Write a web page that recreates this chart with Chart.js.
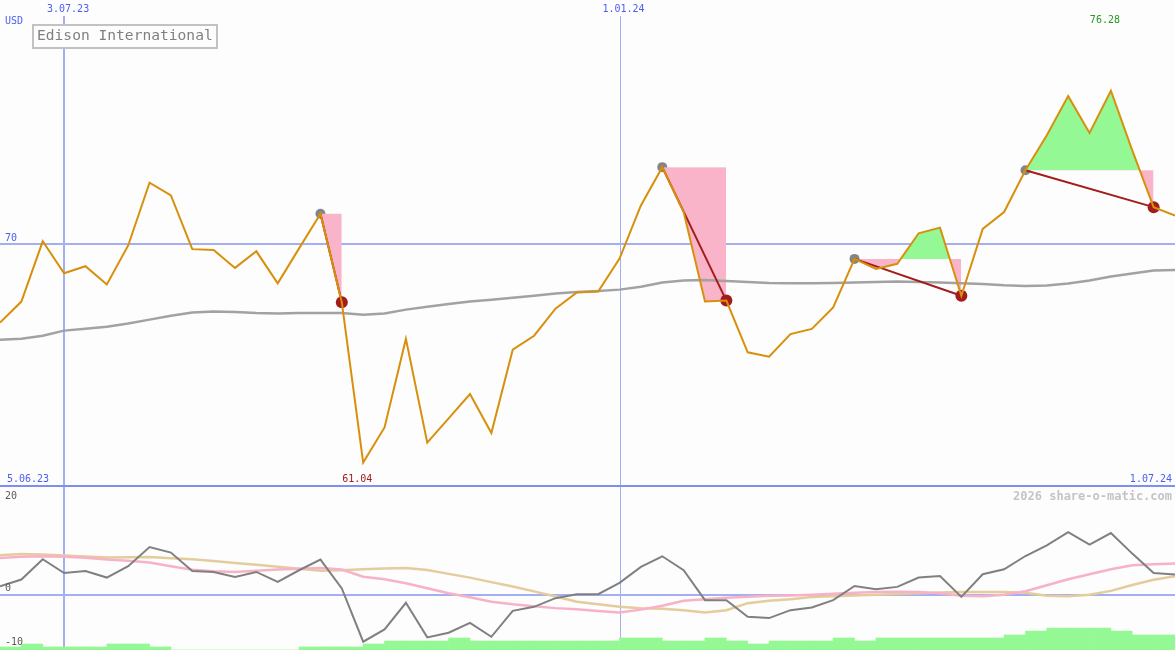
<!DOCTYPE html>
<html>
<head>
<meta charset="utf-8">
<title>Edison International</title>
<script src="https://cdn.jsdelivr.net/npm/chart.js@4.4.1/dist/chart.umd.min.js"></script>
<style>
  html, body { margin: 0; padding: 0; background: #fcfdfc; }
  #wrap { position: relative; width: 1175px; height: 650px; overflow: hidden; }
  canvas { position: absolute; left: 0; }
  #priceChart { top: 0; }
  #oscChart { top: 488px; }
</style>
</head>
<body>
<div id="wrap">
  <canvas id="priceChart" width="1175" height="488"></canvas>
  <canvas id="oscChart" width="1175" height="162"></canvas>
</div>
<script>
// weekly closes, USD
const price = [
  66.78, 67.64, 70.11, 68.80, 69.09, 68.34, 69.94, 72.51, 71.99, 69.79,
  69.75, 69.02, 69.70, 68.39, 69.82, 71.24, 67.61, 61.04, 62.48, 66.11,
  61.86, 62.85, 63.85, 62.25, 65.67, 66.24, 67.35, 68.01, 68.05, 69.40,
  71.58, 73.15, 71.31, 67.64, 67.68, 65.56, 65.38, 66.31, 66.52, 67.40,
  69.39, 68.98, 69.19, 70.44, 70.67, 67.88, 70.62, 71.31, 73.02, 74.46,
  76.06, 74.55, 76.28, 73.84, 71.51, 71.17,
];
// long moving average (gray)
const avgLine = [
  66.08, 66.12, 66.24, 66.45, 66.53, 66.61, 66.74, 66.90, 67.06, 67.19,
  67.23, 67.21, 67.17, 67.15, 67.17, 67.17, 67.17, 67.10, 67.15, 67.31,
  67.43, 67.54, 67.64, 67.72, 67.80, 67.88, 67.97, 68.03, 68.07, 68.13,
  68.25, 68.42, 68.50, 68.52, 68.48, 68.44, 68.40, 68.39, 68.39, 68.40,
  68.42, 68.44, 68.46, 68.44, 68.42, 68.39, 68.36, 68.31, 68.28, 68.30,
  68.38, 68.50, 68.67, 68.79, 68.91, 68.93,
];
// lower panel
const oscGray = [
  1.59, 2.84, 6.64, 4.07, 4.45, 3.21, 5.33, 8.93, 7.89, 4.45,
  4.26, 3.33, 4.26, 2.39, 4.58, 6.58, 1.16, -8.82, -6.50, -1.53,
  -8.00, -7.14, -5.27, -7.89, -3.03, -2.28, -0.65, 0.09, 0.09, 2.21,
  5.20, 7.20, 4.58, -1.03, -1.03, -4.15, -4.39, -2.90, -2.39, -1.03,
  1.64, 1.03, 1.46, 3.21, 3.51, -0.41, 3.83, 4.77, 7.25, 9.25,
  11.74, 9.38, 11.55, 7.70, 4.07, 3.78,
];
const oscPink = [
  6.88, 7.10, 7.20, 7.10, 6.92, 6.58, 6.36, 6.02, 5.33, 4.67,
  4.39, 4.26, 4.49, 4.71, 4.86, 5.01, 4.71, 3.36, 2.90, 2.15,
  1.21, 0.28, -0.47, -1.31, -1.78, -2.15, -2.52, -2.75, -3.08, -3.36,
  -2.80, -2.06, -1.12, -0.84, -0.56, -0.37, -0.22, -0.13, 0.00, 0.19,
  0.37, 0.52, 0.56, 0.52, 0.28, -0.19, -0.28, 0.00, 0.65, 1.78,
  2.90, 3.83, 4.77, 5.51, 5.70, 5.83,
];
const oscTan = [
  7.38, 7.63, 7.55, 7.35, 7.15, 6.95, 7.00, 7.07, 6.85, 6.65,
  6.30, 5.95, 5.60, 5.22, 4.85, 4.47, 4.60, 4.77, 4.90, 5.01,
  4.62, 3.90, 3.20, 2.35, 1.55, 0.62, -0.35, -1.31, -1.78, -2.24,
  -2.52, -2.62, -2.90, -3.36, -2.90, -1.59, -1.12, -0.84, -0.45, -0.30,
  -0.15, 0.00, 0.15, 0.25, 0.40, 0.50, 0.52, 0.52, 0.35, -0.20,
  -0.28, 0.00, 0.71, 1.83, 2.80, 3.46,
];
// volume, one bar per week
const volume = [
  1, 2, 1, 1, 1, 2, 2, 1, 0, 0,
  0, 0, 0, 0, 1, 1, 1, 2, 3, 3,
  3, 4, 3, 3, 3, 3, 3, 3, 3, 4,
  4, 3, 3, 4, 3, 2, 3, 3, 3, 4,
  3, 4, 4, 4, 4, 4, 4, 5, 6.3, 7.3,
  7.3, 7.3, 6.3, 5, 5,
];
// trades: entry / exit week
const entryIdx = [15, 31, 40, 48];
const exitIdx = [16, 34, 45, 54];

const dateTickIdx = [3, 29];
const dateTickText = ['3.07.23', '1.01.24'];
const priceGrid = 70;
const oscTicks = [20, 0, -10];

const BG = '#fcfdfc';
const GRID = '#a3aff2';
const BLUE = '#4c5ef0';
const PINK = '#f9b4c9';
const GREEN = '#94f994';
const DARKRED = '#a31c1c';
const MONO = '"DejaVu Sans Mono", "Liberation Mono", monospace';

const xMax = price.length - 1;
const pts = (arr, from = 0) => arr.map((v, k) => ({ x: from + k, y: v }));

const lineDs = (data, color, width, order) => ({
  type: 'line', data, borderColor: color, borderWidth: width,
  pointRadius: 0, tension: 0, fill: false, order,
});

const xScale = { type: 'linear', min: 0, max: xMax, display: false, offset: false };

// ---------- top panel ----------
const datasets = [];
datasets.push(lineDs(pts(price), '#d8900c', 2, 0));
datasets.push({
  type: 'line', showLine: false, order: 1,
  data: exitIdx.map((i) => ({ x: i, y: price[i] })),
  pointRadius: 6, pointBackgroundColor: DARKRED, pointBorderWidth: 0, pointHoverRadius: 6,
});
entryIdx.forEach((e, k) => {
  const x = exitIdx[k];
  datasets.push(lineDs([{ x: e, y: price[e] }, { x, y: price[x] }], DARKRED, 2, 2));
});
datasets.push(lineDs(pts(avgLine), '#a2a2a2', 2.5, 3));
entryIdx.forEach((e, k) => {
  const x = exitIdx[k];
  datasets.push({
    type: 'line', data: pts(price.slice(e, x + 1), e),
    borderWidth: 0, pointRadius: 0, tension: 0, order: 4,
    fill: { target: { value: price[e] }, above: GREEN, below: PINK },
  });
});
datasets.push({
  type: 'line', showLine: false, order: 5,
  data: entryIdx.map((i) => ({ x: i, y: price[i] })),
  pointRadius: 5, pointBackgroundColor: '#858585', pointBorderWidth: 0,
});

const topDecor = {
  id: 'topDecor',
  beforeDatasetsDraw(chart) {
    const { ctx, scales: { x, y } } = chart;
    ctx.save();
    ctx.fillStyle = GRID;
    const yg = Math.round(y.getPixelForValue(priceGrid));
    ctx.fillRect(0, yg - 1, chart.width, 2);
    dateTickIdx.forEach((i, k) => {
      const px = x.getPixelForValue(i);
      if (k === 0) ctx.fillRect(Math.round(px) - 1, 16, 2, chart.height);
      else ctx.fillRect(Math.ceil(px), 16, 1, chart.height);
    });
    ctx.restore();
  },
  afterDraw(chart) {
    const { ctx, scales: { x, y } } = chart;
    ctx.save();
    // separator
    ctx.fillStyle = '#7f8ff0';
    ctx.fillRect(0, 485, chart.width, 2);

    ctx.font = '10px ' + MONO;
    ctx.textBaseline = 'middle';
    ctx.fillStyle = BLUE;
    ctx.textAlign = 'center';
    dateTickIdx.forEach((i, k) => ctx.fillText(dateTickText[k], x.getPixelForValue(i) + 4, 9));
    ctx.textAlign = 'left';
    ctx.fillText('USD', 5, 21);
    ctx.fillText(String(priceGrid), 5, y.getPixelForValue(priceGrid) - 6);
    ctx.fillText('5.06.23', 7, 479);
    ctx.textAlign = 'right';
    ctx.fillText('1.07.24', 1172, 479);

    // min / max labels
    const hi = price.indexOf(Math.max(...price));
    const lo = price.indexOf(Math.min(...price));
    ctx.textAlign = 'center';
    ctx.fillStyle = '#1f9a1f';
    ctx.fillText(price[hi].toFixed(2), x.getPixelForValue(hi) - 6, 20.5);
    ctx.fillStyle = DARKRED;
    ctx.fillText(price[lo].toFixed(2), x.getPixelForValue(lo) - 6, 479);

    // title box
    ctx.fillStyle = BG;
    ctx.fillRect(33, 25, 184, 23);
    ctx.strokeStyle = '#c2c2c2';
    ctx.lineWidth = 2;
    ctx.strokeRect(33, 25, 184, 23);
    ctx.fillStyle = '#808080';
    ctx.font = '14.6px ' + MONO;
    ctx.textAlign = 'left';
    ctx.fillText('Edison International', 37, 36.5);
    ctx.restore();
  },
};

new Chart(document.getElementById('priceChart').getContext('2d'), {
  data: { datasets },
  options: {
    responsive: false,
    animation: false,
    events: [],
    layout: { padding: 0, autoPadding: false },
    plugins: { legend: { display: false }, tooltip: { enabled: false } },
    scales: {
      x: xScale,
      y: { type: 'linear', min: 60, max: 80, display: false },
    },
  },
  plugins: [topDecor],
});

// ---------- bottom panel ----------
const bottomDecor = {
  id: 'bottomDecor',
  beforeDatasetsDraw(chart) {
    const { ctx, scales: { x, y } } = chart;
    ctx.save();
    ctx.fillStyle = GRID;
    ctx.fillRect(0, Math.round(y.getPixelForValue(0)) - 1, chart.width, 2);
    dateTickIdx.forEach((i, k) => {
      const px = x.getPixelForValue(i);
      if (k === 0) ctx.fillRect(Math.round(px) - 1, 0, 2, chart.height);
      else ctx.fillRect(Math.ceil(px), 0, 1, chart.height);
    });
    ctx.restore();
  },
  afterDraw(chart) {
    const { ctx, scales: { y } } = chart;
    ctx.save();
    ctx.textBaseline = 'middle';
    ctx.textAlign = 'left';
    ctx.font = '10px ' + MONO;
    ctx.fillStyle = '#5a5a5a';
    oscTicks.forEach((v) => {
      const py = Math.max(8.5, y.getPixelForValue(v) - 6);
      ctx.fillText(String(v), 5, py);
    });
    ctx.textAlign = 'right';
    ctx.fillStyle = '#c4c4c4';
    ctx.font = 'bold 12px ' + MONO;
    ctx.fillText('2026 share-o-matic.com', 1172, 8.5);
    ctx.restore();
  },
};

new Chart(document.getElementById('oscChart').getContext('2d'), {
  data: {
    datasets: [
      lineDs(pts(oscGray), '#808080', 2, 0),
      lineDs(pts(oscPink), '#f8b2c8', 2.5, 1),
      lineDs(pts(oscTan), '#e4cc9c', 2.5, 2),
      {
        type: 'bar', yAxisID: 'vol', order: 3,
        data: volume.map((v, i) => ({ x: i + 0.5, y: v })),
        backgroundColor: GREEN, borderWidth: 0,
        barPercentage: 1, categoryPercentage: 1,
      },
    ],
  },
  options: {
    responsive: false,
    animation: false,
    events: [],
    layout: { padding: 0, autoPadding: false },
    plugins: { legend: { display: false }, tooltip: { enabled: false } },
    scales: {
      x: xScale,
      y: { type: 'linear', min: -10.37, max: 20, display: false },
      vol: { type: 'linear', min: 0, max: 54, display: false },
    },
  },
  plugins: [bottomDecor],
});
</script>
</body>
</html>
